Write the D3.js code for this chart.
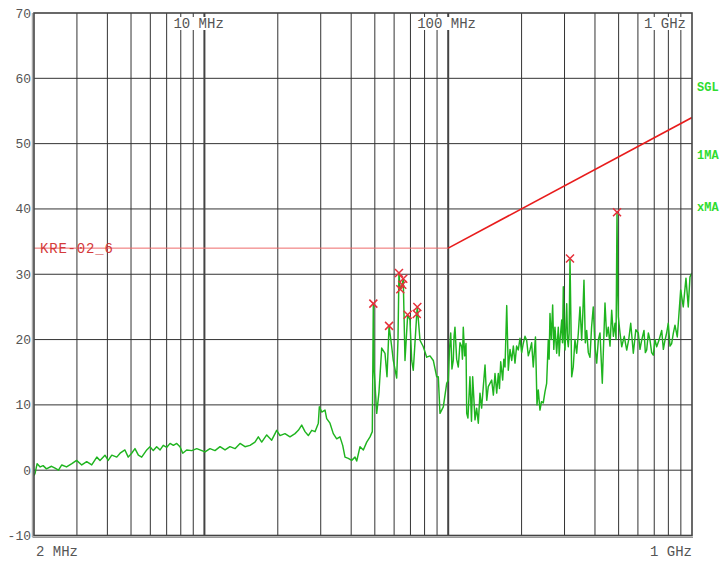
<!DOCTYPE html>
<html><head><meta charset="utf-8">
<script src="https://cdn.jsdelivr.net/npm/d3@7"></script>
<style>html,body{margin:0;padding:0;background:#fff}svg{display:block}</style>
</head><body>
<svg id="chart" width="721" height="562"></svg>
<script>
// ---- data ----
const yTickValues = [-10, 0, 10, 20, 30, 40, 50, 60, 70];
const topLabelFreqs = [10, 100, 1000];
const topLabelTexts = ["10 MHz", "100 MHz", "1 GHz"];
const bottomLabelTexts = ["2 MHz", "1 GHz"];
const statusTexts = ["SGL", "1MA", "xMA"];
const limitName = "KRE-02_6";
const limitFreqMHz = [2, 100, 1000];
const limitDb = [34, 34, 54];
const markerFreqMHz = [49.3, 57.2, 62.8, 63.6, 64.8, 65.4, 68.2, 74.3, 74.7, 315.9, 492.5];
const markerDb = [25.5, 22.1, 30.2, 27.7, 28.4, 29.3, 23.8, 23.9, 25.0, 32.4, 39.5];
const traceFreqMHz = [
  2.0, 2.02, 2.06, 2.12, 2.18, 2.25, 2.36, 2.44, 2.52, 2.60, 2.72, 2.86, 2.99, 3.14, 3.29, 3.45,
  3.62, 3.73, 3.91, 4.03, 4.17, 4.37, 4.51, 4.72, 4.87, 5.03, 5.19, 5.36, 5.53, 5.80, 5.98, 6.17,
  6.37, 6.58, 6.78, 7.01, 7.23, 7.46, 7.70, 7.94, 8.15, 8.46, 8.87, 9.30, 9.59, 10.06, 10.54, 11.05,
  11.59, 12.15, 12.73, 13.35, 14.0, 14.67, 15.38, 16.12, 16.64, 17.18, 18.01, 18.88, 19.79, 20.42,
  21.40, 22.44, 23.53, 24.28, 25.07, 25.86, 26.68, 27.56, 28.43, 29.33, 29.61, 30.28, 31.24, 31.74,
  32.74, 33.78, 34.88, 35.98, 36.92, 37.73, 38.92, 40.19, 41.47, 42.14, 43.48, 44.86, 46.32, 47.79,
  48.83, 49.3, 49.63, 50.91, 52.02, 53.36, 55.05, 56.10, 57.2, 58.65, 59.54, 61.48, 62.24, 62.8,
  63.6, 64.8, 65.4, 66.49, 68.2, 69.70, 70.83, 71.91, 74.3, 74.7, 76.61, 79.04, 81.62, 84.21,
  86.87, 89.70, 91.07, 92.54, 95.48, 98.59,
  100.1, 101.2, 102.4, 103.6, 104.9, 105.7, 106.6, 108.3, 110.0, 111.8, 113.6, 114.4, 115.3, 116.8,
  118.3, 119.1, 120.5, 122.8, 124.6, 126.0, 127.4, 128.8, 130.8, 132.9, 135.0, 137.1, 139.3, 141.6,
  143.9, 146.0, 148.4, 150.8, 153.2, 155.6, 158.1, 160.5, 162.3, 164.2, 167.3, 169.1, 171.0, 173.8,
  176.4, 179.3, 182.2, 185.0, 187.9, 190.8, 193.8, 197.0, 200.1, 203.2, 206.5, 209.8, 213.1, 216.5,
  219.9, 223.3, 228.0, 231.3, 234.1, 237.9, 241.3, 245.4, 249.4, 253.4, 257.3, 259.4, 261.5, 264.8,
  268.2, 271.1, 274.1, 278.6, 282.9, 285.2, 287.5, 292.1, 294.3, 296.6, 299.0, 301.4, 303.8, 306.3,
  308.6, 310.9, 313.4, 315.9, 318.4, 321.0, 325.8, 331.1, 336.5, 341.8, 347.2, 352.8, 356.6, 360.5,
  365.1, 369.8, 375.6, 381.5, 387.5, 393.6, 400.0, 406.5, 413.0, 419.4, 428.6, 434.1, 439.7, 446.6,
  453.6, 461.0, 468.4, 475.8, 483.3, 488.0, 492.5, 495.5, 498.6, 506.7, 514.9, 527.3, 539.8, 550.1,
  560.6, 574.5, 588.2, 602.2, 611.9, 621.8, 635.5, 643.6, 651.9, 662.1, 672.5, 683.1, 693.8, 705.0,
  716.4, 733.6, 751.1, 763.0, 774.9, 787.0, 799.4, 812.3, 825.4, 838.4, 851.5, 870.2, 884.3, 898.6,
  920.9, 944.6, 965.4, 981.1, 1000
];
const traceDb = [
  -0.8, -0.5, 1.0, 0.5, 0.7, 0.2, 0.6, 0.3, 0.0, 0.8, 0.5, 1.0, 1.5, 0.8, 1.3, 0.8,
  2.0, 1.5, 2.3, 1.5, 2.3, 2.0, 2.6, 3.1, 2.0, 2.6, 3.3, 2.3, 2.0, 3.1, 3.6, 3.0,
  3.6, 3.1, 3.8, 3.5, 4.1, 3.8, 4.1, 3.6, 2.6, 3.1, 3.0, 3.3, 3.1, 2.8, 3.3, 3.0,
  3.6, 3.1, 3.6, 3.3, 4.1, 3.6, 3.8, 4.3, 5.1, 4.3, 5.4, 4.6, 6.1, 5.3,
  5.6, 5.1, 5.6, 6.1, 6.9, 5.9, 5.3, 6.1, 5.9, 7.2, 9.7, 8.9, 9.2, 7.9,
  7.2, 5.6, 4.8, 5.1, 3.8, 2.0, 1.8, 1.5, 2.0, 1.4, 3.6, 3.1, 4.3, 5.1,
  5.9, 25.5, 15.6, 8.7, 12.0, 18.7, 17.9, 14.3, 22.1, 18.9, 16.8, 14.1, 20.0, 30.2,
  27.7, 28.4, 29.3, 16.8, 23.8, 23.0, 16.8, 15.3, 23.9, 25.0, 19.9, 18.9, 17.3, 17.5,
  16.8, 14.3, 14.3, 8.7, 9.7, 13.3,
  13.8, 18.5, 21.0, 15.5, 16.8, 20.5, 21.9, 17.0, 15.8, 19.5, 18.9, 17.0, 21.9, 17.5,
  19.4, 8.7, 8.0, 14.3, 7.5, 14.3, 11.0, 7.7, 9.5, 7.2, 11.8, 9.5, 12.8, 16.1,
  10.7, 12.8, 13.3, 13.8, 11.5, 14.8, 11.8, 14.8, 12.5, 16.6, 13.8, 17.0, 15.8, 25.2,
  15.3, 18.5, 16.8, 19.0, 16.4, 19.0, 18.4, 20.2, 18.0, 19.4, 20.5, 19.9, 17.5, 18.4,
  19.5, 15.8, 20.4, 10.0, 12.3, 9.2, 10.5, 10.3, 12.0, 13.3, 19.9, 17.0, 24.0, 20.0,
  25.3, 18.5, 21.9, 17.9, 21.9, 17.5, 19.9, 23.0, 19.5, 28.1, 20.0, 18.4, 22.0, 25.5,
  20.0, 18.9, 21.0, 32.4, 24.0, 14.3, 15.8, 20.0, 17.9, 21.0, 25.0, 19.9, 24.0, 29.1,
  19.5, 21.4, 18.0, 17.3, 22.0, 25.0, 19.0, 16.4, 20.0, 21.0, 13.3, 19.5, 25.6, 20.5,
  21.9, 19.0, 24.5, 20.5, 22.5, 20.0, 39.5, 28.0, 23.5, 21.0, 18.9, 20.5, 18.4, 20.0,
  22.5, 17.9, 21.5, 21.0, 18.5, 19.9, 21.4, 18.0, 18.4, 21.0, 19.9, 18.0, 17.6, 20.0,
  18.9, 20.0, 21.4, 18.5, 19.9, 21.0, 22.5, 19.0, 19.4, 21.0, 22.2, 20.4, 24.0, 27.6,
  25.0, 29.4, 25.0, 29.6, 30.2
];

// ---- layout ----
const L = 34, R = 692, T = 13, B = 535.5;
const MONO = "'Liberation Mono','DejaVu Sans Mono',monospace";
const svg = d3.select("#chart");
const x = d3.scaleLog().domain([2, 1000]).range([L, R]);
const y = d3.scaleLinear().domain([-10, 70]).range([B, T]);

// horizontal grid
svg.append("g").selectAll("line").data(yTickValues.filter(v => v > -10 && v < 70)).join("line")
  .attr("x1", L).attr("x2", R).attr("y1", d => y(d)).attr("y2", d => y(d))
  .attr("stroke", "#333").attr("stroke-width", 1);

// vertical grid
const decades = [10, 100];
svg.append("g").selectAll("line").data(x.ticks().filter(f => f > 2 && f < 1000)).join("line")
  .attr("x1", d => x(d)).attr("x2", d => x(d)).attr("y1", T).attr("y2", B)
  .attr("stroke", d => decades.includes(d) ? "#444" : "#333")
  .attr("stroke-width", d => decades.includes(d) ? 2 : 1);

// top frequency labels with white background
const topG = svg.append("g");
topLabelFreqs.forEach((f, i) => {
  const txt = topLabelTexts[i];
  const w = txt.length * 8.4;
  const x0 = f === 1000 ? R - 6 - w : x(f) - 31;
  topG.append("rect").attr("x", x0 - 1).attr("y", 17).attr("width", w + 2).attr("height", 13).attr("fill", "#fff");
  topG.append("text").attr("x", x0).attr("y", 27.5).text(txt)
    .attr("font-family", MONO).attr("font-size", 14).attr("fill", "#555");
});

// y labels
svg.append("g").selectAll("text").data(yTickValues).join("text")
  .attr("x", 31).attr("y", d => y(d)).attr("dy", "0.35em").attr("text-anchor", "end")
  .attr("font-family", MONO).attr("font-size", 13).attr("fill", "#555").text(d => d);

// bottom labels
svg.append("text").attr("x", 36).attr("y", 556).text(bottomLabelTexts[0])
  .attr("font-family", MONO).attr("font-size", 14).attr("fill", "#555");
svg.append("text").attr("x", R).attr("y", 556).attr("text-anchor", "end").text(bottomLabelTexts[1])
  .attr("font-family", MONO).attr("font-size", 14).attr("fill", "#555");

// clip
svg.append("clipPath").attr("id", "plot").append("rect").attr("x", L).attr("y", T).attr("width", R - L).attr("height", B - T);
const plot = svg.append("g").attr("clip-path", "url(#plot)");

// limit line
const limitPts = limitFreqMHz.map((f, i) => ({ f, v: limitDb[i] }));
plot.append("line").attr("x1", x(limitPts[0].f)).attr("y1", y(limitPts[0].v))
  .attr("x2", x(limitPts[1].f)).attr("y2", y(limitPts[1].v))
  .attr("stroke", "#ee6a6a").attr("stroke-width", 1);
plot.append("line").attr("x1", x(limitPts[1].f)).attr("y1", y(limitPts[1].v))
  .attr("x2", x(limitPts[2].f)).attr("y2", y(limitPts[2].v))
  .attr("stroke", "#e81c1c").attr("stroke-width", 1.6);
plot.append("text").attr("x", 40).attr("y", y(limitDb[0])).attr("dy", "0.36em").text(limitName)
  .attr("font-family", MONO).attr("font-size", 14).attr("letter-spacing", 0.8).attr("fill", "#d43a3a");

// trace
const trace = traceFreqMHz.map((f, i) => ({ f, v: traceDb[i] }));
plot.append("path").datum(trace)
  .attr("d", d3.line().x(d => x(d.f)).y(d => y(d.v)))
  .attr("fill", "none").attr("stroke", "#1fb41f").attr("stroke-width", 1.45).attr("stroke-linejoin", "round");

// markers
plot.append("g").selectAll("path").data(markerFreqMHz.map((f, i) => ({ f, v: markerDb[i] }))).join("path")
  .attr("transform", d => `translate(${x(d.f)},${y(d.v)})`)
  .attr("d", "M-4,-4L4,4M-4,4L4,-4")
  .attr("stroke", "#e6303a").attr("stroke-width", 1.5).attr("fill", "none");

// frame
svg.append("line").attr("x1", L - 1.5).attr("x2", L - 1.5).attr("y1", T).attr("y2", B + 1.5).attr("stroke", "#aaa").attr("stroke-width", 1.5);
svg.append("line").attr("x1", L - 1.5).attr("x2", R + 1).attr("y1", B + 1.8).attr("y2", B + 1.8).attr("stroke", "#999").attr("stroke-width", 1.2);
svg.append("rect").attr("x", L).attr("y", T).attr("width", R - L).attr("height", B - T)
  .attr("fill", "none").attr("stroke", "#444").attr("stroke-width", 1.6);

// status labels
const statusY = [87, 155, 207];
svg.append("g").selectAll("text").data(statusTexts).join("text")
  .attr("x", 697).attr("y", (d, i) => statusY[i]).attr("dy", "0.35em").text(d => d)
  .attr("font-family", MONO).attr("font-size", 12).attr("font-weight", "bold").attr("fill", "#2fdc2f");
</script>
</body></html>
